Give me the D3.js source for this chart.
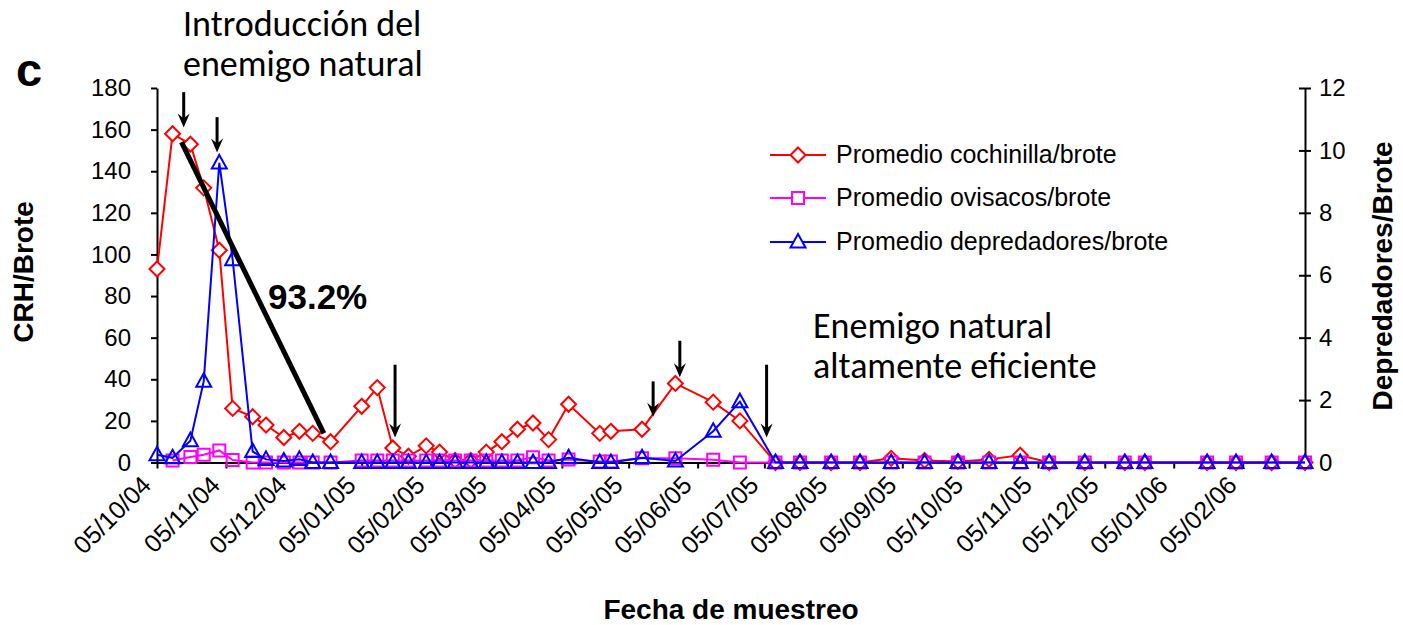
<!DOCTYPE html>
<html>
<head>
<meta charset="utf-8">
<script src="https://cdn.jsdelivr.net/npm/d3@7"></script>
<style>
  html, body { margin: 0; padding: 0; background: #fff; }
  svg { display: block; }
  text { font-family: Arial, "Liberation Sans", sans-serif; }
</style>
</head>
<body>
<svg id="chart" width="1403" height="625"></svg>
<script>
// Sampling dates (yyyy-mm-dd)
const sampleDates = [
  "2004-10-05","2004-10-12","2004-10-20","2004-10-26","2004-11-02","2004-11-08",
  "2004-11-17","2004-11-23","2004-12-01","2004-12-08","2004-12-14","2004-12-22",
  "2005-01-05","2005-01-12","2005-01-19","2005-01-26","2005-02-03","2005-02-09",
  "2005-02-16","2005-02-23","2005-03-02","2005-03-09","2005-03-16","2005-03-23",
  "2005-03-30","2005-04-08","2005-04-22","2005-04-27","2005-05-11","2005-05-26",
  "2005-06-12","2005-06-24","2005-07-10","2005-07-21","2005-08-04","2005-08-17",
  "2005-08-31","2005-09-15","2005-09-30","2005-10-14","2005-10-28","2005-11-10",
  "2005-11-26","2005-12-14","2005-12-23","2006-01-20","2006-02-02","2006-02-18",
  "2006-03-05"
];

// Mean mealybugs per shoot (left axis)
const cochinilla = [
  93, 158, 153, 132, 102, 26,
  22, 18, 12, 15, 14, 10,
  27, 36, 7, 3, 8, 5,
  1, 1, 5, 10, 16, 19,
  11, 28, 14, 15, 16, 38,
  29, 20, 0, 0, 0, 0,
  2, 1, 0.5, 1.5, 3.5, 0,
  0, 0, 0, 0, 0, 0,
  0
];

// Mean ovisacs per shoot (left axis)
const ovisacos = [
  null, 1, 2.6, 3.7, 5.8, 1.2,
  0, 0, 0, 0, 0, 0,
  1, 1, 1, 1, 1, 1,
  1, 1, 1, 1, 1, 2.5,
  1, 1.5, 0.5, 0.5, 2, 2,
  1.3, 0, 0, 0, 0, 0,
  0, 0, 0, 0, 0, 0,
  0, 0, 0, 0, 0, 0,
  0
];

// Mean predators per shoot (right axis)
const depredadores = [
  0.25, 0.15, 0.7, 2.6, 9.6, 6.5,
  0.35, 0.1, 0.05, 0.1, 0, 0,
  0, 0, 0, 0, 0, 0,
  0, 0, 0, 0, 0, 0,
  0, 0.15, 0, 0, 0.15, 0.05,
  1.0, 1.95, 0, 0, 0, 0,
  0, 0, 0, 0, 0, 0,
  0, 0, 0, 0, 0, 0,
  0
];

const leftTicks = [0, 20, 40, 60, 80, 100, 120, 140, 160, 180];
const rightTicks = [0, 2, 4, 6, 8, 10, 12];
const dateTickLabels = [
  "05/10/04","05/11/04","05/12/04","05/01/05","05/02/05","05/03/05",
  "05/04/05","05/05/05","05/06/05","05/07/05","05/08/05","05/09/05",
  "05/10/05","05/11/05","05/12/05","05/01/06","05/02/06"
];
const seriesNames = [
  "Promedio cochinilla/brote",
  "Promedio ovisacos/brote",
  "Promedio depredadores/brote"
];

// Predator releases (dates) with arrow extent in left-axis units
const releaseDates = ["2004-10-17","2004-11-01","2005-01-20","2005-05-16","2005-05-28","2005-07-06"];
const arrowTop = [178, 166, 47, 39, 58.5, 47];
const arrowTip = [161, 149, 12, 22, 41, 12];

// Decline line after the introduction
const declineDates = ["2004-10-16", "2004-12-19"];
const declineValues = [154, 14];
const declineLabel = "93.2%";

const parseISO = d3.timeParse("%Y-%m-%d");
const parseTick = d3.timeParse("%d/%m/%y");

const svg = d3.select("#chart");
svg.append("rect").attr("width", 1403).attr("height", 625).attr("fill", "#fff");

const x = d3.scaleTime()
  .domain([parseISO("2004-10-05"), parseISO("2006-03-05")])
  .range([157, 1305]);
const yL = d3.scaleLinear().domain([0, 180]).range([462.5, 88]);
const yR = d3.scaleLinear().domain([0, 12]).range([462.5, 88]);

const dates = sampleDates.map(parseISO);

// ---- axes ----
const tickFont = 24;
const axisFont = "Arial, 'Liberation Sans', sans-serif";

const xAxis = d3.axisBottom(x)
  .tickValues(dateTickLabels.map(parseTick))
  .tickSize(6).tickSizeOuter(0)
  .tickFormat("");
const gx = svg.append("g").attr("transform", "translate(0,462.5)").call(xAxis);
gx.select(".domain").attr("stroke", "#000").attr("stroke-width", 2);
gx.selectAll(".tick line").attr("stroke", "#000").attr("stroke-width", 2);
gx.selectAll(".tick").append("text")
  .attr("transform", "translate(-11,18) rotate(-45)")
  .attr("text-anchor", "end")
  .attr("dy", "0.35em")
  .attr("fill", "#000")
  .style("font-size", "25px")
  .style("font-family", axisFont)
  .text((d, i) => dateTickLabels[i]);

const yAxisL = d3.axisLeft(yL).tickValues(leftTicks).tickSize(6).tickSizeOuter(0).tickPadding(20);
const gl = svg.append("g").attr("transform", "translate(157,0)").call(yAxisL);
gl.select(".domain").attr("stroke", "#000").attr("stroke-width", 2);
gl.selectAll(".tick line").attr("stroke", "#000").attr("stroke-width", 2);
gl.selectAll(".tick text").attr("fill", "#000")
  .style("font-size", tickFont + "px")
  .style("font-family", axisFont);

const yAxisR = d3.axisRight(yR).tickValues(rightTicks).tickSize(6).tickSizeOuter(0).tickPadding(8);
const gr = svg.append("g").attr("transform", "translate(1305,0)").call(yAxisR);
gr.select(".domain").attr("stroke", "#000").attr("stroke-width", 2);
gr.selectAll(".tick line").attr("x1", -6).attr("stroke", "#000").attr("stroke-width", 2);
gr.selectAll(".tick text").attr("fill", "#000")
  .style("font-size", tickFont + "px")
  .style("font-family", axisFont);

// axis titles
svg.append("text")
  .attr("transform", "translate(33,272) rotate(-90)")
  .attr("text-anchor", "middle")
  .style("font-size", "28px").style("font-weight", "bold")
  .text("CRH/Brote");
svg.append("text")
  .attr("transform", "translate(1392,276) rotate(-90)")
  .attr("text-anchor", "middle")
  .style("font-size", "28px").style("font-weight", "bold")
  .text("Depredadores/Brote");
svg.append("text")
  .attr("x", 731).attr("y", 619)
  .attr("text-anchor", "middle")
  .style("font-size", "28px").style("font-weight", "bold")
  .text("Fecha de muestreo");

// panel letter
svg.append("text")
  .attr("x", 16).attr("y", 86)
  .style("font-size", "47px").style("font-weight", "bold")
  .text("c");

// ---- series ----
const markers = {
  diamond: "M0,-7.5L7.5,0L0,7.5L-7.5,0Z",
  square: "M-6,-6H6V6H-6Z",
  triangle: "M0,-8L7.5,5.5L-7.5,5.5Z"
};

const series = [
  { name: seriesNames[0], values: cochinilla, y: yL, color: "#ff0000", marker: markers.diamond, fill: "#fff" },
  { name: seriesNames[1], values: ovisacos, y: yL, color: "#ff00ff", marker: markers.square, fill: "none" },
  { name: seriesNames[2], values: depredadores, y: yR, color: "#0000ff", marker: markers.triangle, fill: "none" }
];

series.forEach(s => {
  const pts = dates.map((d, i) => ({ d, v: s.values[i] })).filter(p => p.v !== null);
  const line = d3.line().x(p => x(p.d)).y(p => s.y(p.v));
  svg.append("path").datum(pts)
    .attr("d", line)
    .attr("fill", "none").attr("stroke", s.color).attr("stroke-width", 2);
  svg.append("g").selectAll("path").data(pts).join("path")
    .attr("transform", p => `translate(${x(p.d)},${s.y(p.v)})`)
    .attr("d", s.marker)
    .attr("fill", s.fill).attr("stroke", s.color).attr("stroke-width", 2);
});

// ---- decline line ----
svg.append("line")
  .attr("x1", x(parseISO(declineDates[0]))).attr("y1", yL(declineValues[0]))
  .attr("x2", x(parseISO(declineDates[1]))).attr("y2", yL(declineValues[1]))
  .attr("stroke", "#000").attr("stroke-width", 5);
svg.append("text")
  .attr("x", 268).attr("y", 309)
  .style("font-size", "35px").style("font-weight", "bold")
  .text(declineLabel);

// ---- release arrows ----
releaseDates.forEach((ds, i) => {
  const ax = x(parseISO(ds));
  const top = yL(arrowTop[i]);
  const tip = yL(arrowTip[i]);
  svg.append("line")
    .attr("x1", ax).attr("x2", ax).attr("y1", top).attr("y2", tip - 6)
    .attr("stroke", "#000").attr("stroke-width", 3);
  svg.append("path")
    .attr("d", `M${ax - 6},${tip - 14}L${ax},${tip}L${ax + 6},${tip - 14}L${ax},${tip - 9}Z`)
    .attr("fill", "#000");
});

// ---- annotations ----
const noteFont = "Carlito, Calibri, Lato, 'Open Sans', sans-serif";
const intro = svg.append("text").style("font-size", "36px").style("font-family", noteFont);
intro.append("tspan").attr("x", 183).attr("y", 36).text("Introducción del");
intro.append("tspan").attr("x", 183).attr("y", 76).text("enemigo natural");

const eff = svg.append("text").style("font-size", "36px").style("font-family", noteFont);
eff.append("tspan").attr("x", 813).attr("y", 338).text("Enemigo natural");
eff.append("tspan").attr("x", 813).attr("y", 378).text("altamente eficiente");

// ---- legend ----
const legend = svg.append("g");
const legendY = [155, 198, 242];
series.forEach((s, i) => {
  const g = legend.append("g").attr("transform", `translate(0,${legendY[i]})`);
  g.append("line").attr("x1", 770).attr("x2", 826).attr("y1", 0).attr("y2", 0)
    .attr("stroke", s.color).attr("stroke-width", 2);
  g.append("path").attr("transform", "translate(798,0)").attr("d", s.marker)
    .attr("fill", "#fff").attr("stroke", s.color).attr("stroke-width", 2);
  g.append("text").attr("x", 836).attr("y", 8)
    .style("font-size", "25px")
    .text(s.name);
});
</script>
</body>
</html>
